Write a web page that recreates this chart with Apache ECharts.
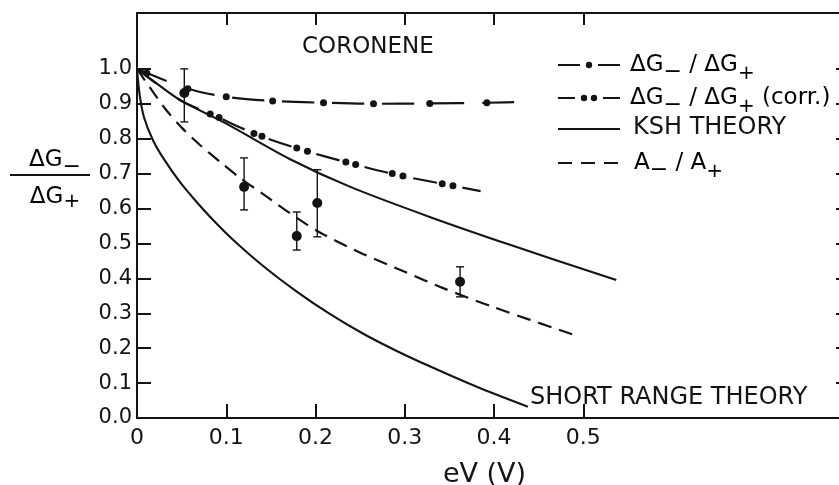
<!DOCTYPE html>
<html>
<head>
<meta charset="utf-8">
<script src="https://cdn.jsdelivr.net/npm/echarts@6/dist/echarts.min.js"></script>
<style>
  html, body { margin: 0; padding: 0; background: #fff; }
  #chart { width: 839px; height: 485px; }
</style>
</head>
<body>
<div id="chart"></div>
<script>
// tick positions / labels
var xTickValues = [0.1, 0.2, 0.3, 0.4, 0.5];
var xLabelValues = [0, 0.1, 0.2, 0.3, 0.4, 0.5];
var yTickValues = [0.1, 0.2, 0.3, 0.4, 0.5, 0.6, 0.7, 0.8, 0.9, 1.0];
var yLabelValues = [0, 0.1, 0.2, 0.3, 0.4, 0.5, 0.6, 0.7, 0.8, 0.9, 1.0];

// dG-/dG+  (dash-dot curve)
var ratioX = [0, 0.011, 0.057, 0.1, 0.152, 0.209, 0.265, 0.328, 0.392, 0.44];
var ratioY = [1.0, 0.988, 0.943, 0.92, 0.908, 0.903, 0.900, 0.901, 0.903, 0.906];
var ratioDotX = [0.011, 0.057, 0.1, 0.152, 0.209, 0.265, 0.328, 0.392];
var ratioDotY = [0.988, 0.943, 0.92, 0.908, 0.903, 0.900, 0.901, 0.903];

// dG-/dG+ (corr.)  (dash-dot-dot curve)
var corrX = [0, 0.048, 0.087, 0.135, 0.185, 0.24, 0.292, 0.348, 0.385];
var corrY = [1.0, 0.911, 0.866, 0.811, 0.768, 0.729, 0.696, 0.668, 0.650];
var corrDotX = [0.082, 0.092, 0.131, 0.140, 0.179, 0.191, 0.234, 0.245, 0.286, 0.298, 0.342, 0.354];
var corrDotY = [0.871, 0.861, 0.815, 0.807, 0.773, 0.764, 0.733, 0.726, 0.700, 0.693, 0.671, 0.665];

// KSH theory (solid)
var kshX = [0, 0.02, 0.048, 0.1, 0.171, 0.239, 0.328, 0.418, 0.537];
var kshY = [1.0, 0.962, 0.911, 0.843, 0.742, 0.662, 0.576, 0.496, 0.395];

// A-/A+ (dashed)
var ampX = [0, 0.0146, 0.0325, 0.0504, 0.0705, 0.0929, 0.1153, 0.141, 0.179, 0.208, 0.253, 0.298, 0.343, 0.399, 0.493];
var ampY = [1.0, 0.946, 0.883, 0.831, 0.782, 0.734, 0.688, 0.642, 0.573, 0.527, 0.470, 0.421, 0.372, 0.318, 0.235];

// short range theory (solid)
var shortX = [0, 0.003, 0.008, 0.018, 0.03, 0.048, 0.067, 0.085, 0.107, 0.141, 0.179, 0.216, 0.253, 0.291, 0.328, 0.38, 0.438];
var shortY = [1.0, 0.925, 0.86, 0.795, 0.742, 0.676, 0.618, 0.568, 0.512, 0.436, 0.362, 0.298, 0.242, 0.192, 0.148, 0.09, 0.032];

// measured points with error bars
var pointX = [0.053, 0.120, 0.179, 0.202, 0.362];
var pointY = [0.931, 0.662, 0.521, 0.616, 0.390];
var errLow = [0.848, 0.596, 0.481, 0.519, 0.347];
var errHigh = [1.0, 0.745, 0.590, 0.711, 0.433];

function zip(xs, ys) {
  return xs.map(function (x, i) { return [x, ys[i]]; });
}

var ink = '#141414';
var font = 'DejaVu Sans';

// rich styles for  dG-  /  dG+  style labels (sub minus sits on the baseline)
var richSub = {
  m: { fontSize: 23, fontFamily: font, color: ink },
  lo: { fontSize: 22, padding: [15, 0, 0, 0], verticalAlign: 'bottom', fontFamily: font, color: ink },
  pl: { fontSize: 20, padding: [9, 0, 0, 0], verticalAlign: 'bottom', fontFamily: font, color: ink }
};

var axisBase = {
  type: 'value',
  min: 0,
  splitLine: { show: false },
  axisLine: { show: true, onZero: false, lineStyle: { color: ink, width: 2 } }
};

function tick(len) {
  return { inside: true, length: len, lineStyle: { color: ink, width: 2 } };
}

var dotStyle = { color: ink, opacity: 1 };

var option = {
  animation: false,
  backgroundColor: '#fff',
  textStyle: { fontFamily: font, color: ink },
  grid: { left: 137, right: -12, top: 13, bottom: 67, outerBoundsMode: 'none', containLabel: false },
  xAxis: [
    Object.assign({}, axisBase, {
      max: 0.8,
      position: 'bottom',
      axisTick: Object.assign(tick(14), { customValues: xTickValues }),
      axisLabel: {
        customValues: xLabelValues, margin: 9, fontSize: 22, color: ink, fontFamily: font,
        formatter: function (v) { return v === 0 ? '0' : v.toFixed(1); }
      },
      name: 'eV (V)', nameLocation: 'middle', nameGap: 43,
      nameTextStyle: { fontSize: 27, color: ink, fontFamily: font, padding: [0, 19, 0, 0] }
    }),
    Object.assign({}, axisBase, {
      max: 0.8,
      position: 'top',
      axisTick: Object.assign(tick(12), { customValues: xTickValues }),
      axisLabel: { show: false }
    })
  ],
  yAxis: [
    Object.assign({}, axisBase, {
      max: 1.16,
      position: 'left',
      axisTick: Object.assign(tick(14), { customValues: yTickValues }),
      axisLabel: {
        customValues: yLabelValues, margin: 5, fontSize: 21, color: ink, fontFamily: font,
        formatter: function (v) { return v.toFixed(1); }
      }
    }),
    Object.assign({}, axisBase, {
      max: 1.16,
      position: 'right',
      axisTick: Object.assign(tick(15), { customValues: yTickValues }),
      axisLabel: { show: false }
    })
  ],
  series: [
    {
      name: 'ratio', type: 'line', smooth: 0.3, symbol: 'none',
      lineStyle: { color: ink, width: 2.2, type: [32, 18] },
      data: zip(ratioX, ratioY)
    },
    {
      name: 'ratio dots', type: 'scatter', symbol: 'circle', symbolSize: 7,
      itemStyle: dotStyle,
      data: zip(ratioDotX, ratioDotY)
    },
    {
      name: 'corr', type: 'line', smooth: 0.3, symbol: 'none',
      lineStyle: { color: ink, width: 2.2, type: [24, 26] },
      data: zip(corrX, corrY)
    },
    {
      name: 'corr dots', type: 'scatter', symbol: 'circle', symbolSize: 7,
      itemStyle: dotStyle,
      data: zip(corrDotX, corrDotY)
    },
    {
      name: 'KSH', type: 'line', smooth: 0.3, symbol: 'none',
      lineStyle: { color: ink, width: 2.1 },
      data: zip(kshX, kshY)
    },
    {
      name: 'amp', type: 'line', smooth: 0.3, symbol: 'none',
      lineStyle: { color: ink, width: 2.2, type: [14, 8] },
      data: zip(ampX, ampY)
    },
    {
      name: 'short', type: 'line', smooth: 0.3, symbol: 'none',
      lineStyle: { color: ink, width: 2.1 },
      data: zip(shortX, shortY)
    },
    {
      name: 'errors', type: 'custom',
      data: pointX.map(function (x, i) { return [x, errLow[i], errHigh[i]]; }),
      renderItem: function (params, api) {
        var lo = api.coord([api.value(0), api.value(1)]);
        var hi = api.coord([api.value(0), api.value(2)]);
        var cap = 4;
        var st = { stroke: ink, lineWidth: 1.4 };
        return {
          type: 'group',
          children: [
            { type: 'line', shape: { x1: lo[0], y1: lo[1], x2: hi[0], y2: hi[1] }, style: st },
            { type: 'line', shape: { x1: lo[0] - cap, y1: lo[1], x2: lo[0] + cap, y2: lo[1] }, style: st },
            { type: 'line', shape: { x1: hi[0] - cap, y1: hi[1], x2: hi[0] + cap, y2: hi[1] }, style: st }
          ]
        };
      }
    },
    {
      name: 'data', type: 'scatter', symbol: 'circle', symbolSize: 10,
      itemStyle: dotStyle,
      data: zip(pointX, pointY)
    }
  ],
  graphic: [
    // y-axis title as a fraction
    { type: 'text', x: 55, y: 160, style: { text: '{m|ΔG}{lo|−}', rich: richSub, align: 'center', verticalAlign: 'middle' } },
    { type: 'line', shape: { x1: 10, y1: 175, x2: 90, y2: 175 }, style: { stroke: ink, lineWidth: 2 } },
    { type: 'text', x: 55, y: 197, style: { text: '{m|ΔG}{pl|+}', rich: richSub, align: 'center', verticalAlign: 'middle' } },
    // annotations
    { type: 'text', left: 302, top: 36, style: { text: 'CORONENE', font: '23px "DejaVu Sans"', fill: ink } },
    { type: 'text', left: 530, top: 386, style: { text: 'SHORT RANGE THEORY', font: '24px "DejaVu Sans"', fill: ink } },
    // legend
    { type: 'line', shape: { x1: 558, y1: 65, x2: 580, y2: 65 }, style: { stroke: ink, lineWidth: 2 } },
    { type: 'circle', shape: { cx: 589, cy: 65, r: 3.2 }, style: { fill: ink } },
    { type: 'line', shape: { x1: 598, y1: 65, x2: 620, y2: 65 }, style: { stroke: ink, lineWidth: 2 } },
    { type: 'text', x: 630, y: 65, style: { text: '{m|ΔG}{lo|−}{m| / ΔG}{pl|+}', rich: richSub, verticalAlign: 'middle' } },
    { type: 'line', shape: { x1: 558, y1: 98, x2: 575, y2: 98 }, style: { stroke: ink, lineWidth: 2 } },
    { type: 'circle', shape: { cx: 584, cy: 98, r: 3.2 }, style: { fill: ink } },
    { type: 'circle', shape: { cx: 594, cy: 98, r: 3.2 }, style: { fill: ink } },
    { type: 'line', shape: { x1: 603, y1: 98, x2: 620, y2: 98 }, style: { stroke: ink, lineWidth: 2 } },
    { type: 'text', x: 630, y: 98, style: { text: '{m|ΔG}{lo|−}{m| / ΔG}{pl|+}{m| (corr.)}', rich: richSub, verticalAlign: 'middle' } },
    { type: 'line', shape: { x1: 558, y1: 129, x2: 620, y2: 129 }, style: { stroke: ink, lineWidth: 2 } },
    { type: 'text', left: 633, top: 116, style: { text: 'KSH THEORY', font: '24px "DejaVu Sans"', fill: ink } },
    { type: 'line', shape: { x1: 558, y1: 163, x2: 620, y2: 163 }, style: { stroke: ink, lineWidth: 2, lineDash: [14, 9] } },
    { type: 'text', x: 634, y: 163, style: { text: '{m|A}{lo|−}{m| / A}{pl|+}', rich: richSub, verticalAlign: 'middle' } }
  ]
};

var myChart = echarts.init(document.getElementById('chart'));
myChart.setOption(option);
</script>
</body>
</html>
